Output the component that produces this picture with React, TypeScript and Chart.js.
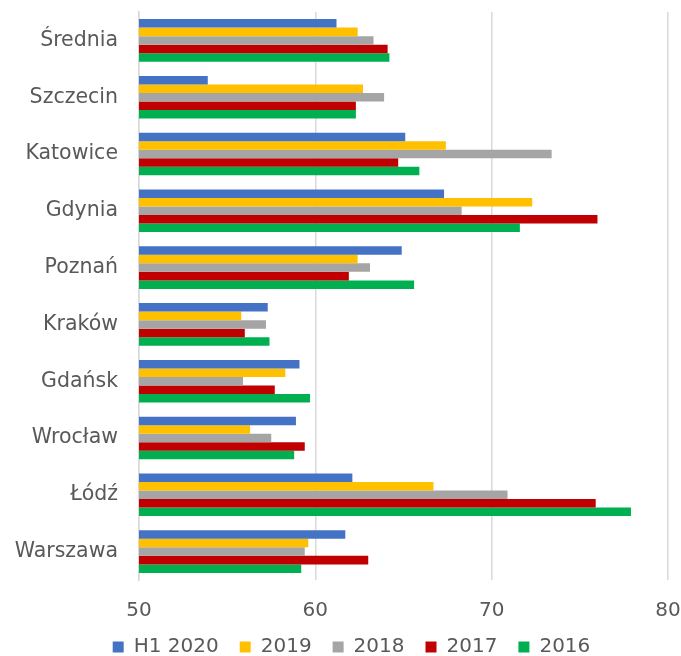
import React, { useEffect, useRef } from "react";
import { Chart, registerables } from "chart.js";

Chart.register(...registerables);

const cities = [
  "Średnia",
  "Szczecin",
  "Katowice",
  "Gdynia",
  "Poznań",
  "Kraków",
  "Gdańsk",
  "Wrocław",
  "Łódź",
  "Warszawa",
];

const seriesNames = ["H1 2020", "2019", "2018", "2017", "2016"];

const h1_2020 = [61.2, 53.9, 65.1, 67.3, 64.9, 57.3, 59.1, 58.9, 62.1, 61.7];
const y2019 = [62.4, 62.7, 67.4, 72.3, 62.4, 55.8, 58.3, 56.3, 66.7, 59.6];
const y2018 = [63.3, 63.9, 73.4, 68.3, 63.1, 57.2, 55.9, 57.5, 70.9, 59.4];
const y2017 = [64.1, 62.3, 64.7, 76.0, 61.9, 56.0, 57.7, 59.4, 75.9, 63.0];
const y2016 = [64.2, 62.3, 65.9, 71.6, 65.6, 57.4, 59.7, 58.8, 77.9, 59.2];

const xTicks = [50, 60, 70, 80];

const colors = ["#4472C4", "#FFC000", "#A5A5A5", "#C00000", "#00B050"];

const FONT = "'DejaVu Sans', Verdana, sans-serif";
const TEXT = "#595959";
const GRID = "#D9D9D9";

const PLOT_LEFT = 139;

// Centre the legend row a little to the right of the canvas centre.
const legendOffset = {
  id: "legendOffset",
  beforeDraw(chart: any) {
    const lg = chart.legend;
    if (lg) {
      lg.left = 35;
      lg.right = 668;
    }
  },
};

export default function App() {
  const ref = useRef<HTMLCanvasElement | null>(null);

  useEffect(() => {
    if (!ref.current) return;
    const values = [h1_2020, y2019, y2018, y2017, y2016];
    const chart = new Chart(ref.current, {
      type: "bar",
      data: {
        labels: cities,
        datasets: seriesNames.map((name, i) => ({
          label: name,
          data: values[i],
          backgroundColor: colors[i],
          borderWidth: 0,
          categoryPercentage: 0.75,
          barPercentage: 1,
        })),
      },
      options: {
        indexAxis: "y",
        animation: false,
        responsive: true,
        maintainAspectRatio: false,
        layout: { padding: { top: 12, right: 13, bottom: -11, left: 0 } },
        plugins: {
          tooltip: { enabled: false },
          legend: {
            position: "bottom",
            labels: {
              font: { family: FONT, size: 20 },
              color: TEXT,
              boxWidth: 11,
              boxHeight: 11,
              padding: 21,
            },
          },
        },
        scales: {
          x: {
            min: 50,
            max: 80,
            afterBuildTicks: (s: any) => {
              s.ticks = xTicks.map((v) => ({ value: v }));
            },
            afterFit: (s: any) => {
              s.height = 36;
              s.paddingLeft = 0;
              s.paddingRight = 0;
            },
            ticks: {
              font: { family: FONT, size: 20 },
              color: TEXT,
              padding: 19,
            },
            grid: { color: GRID, lineWidth: 1.5, drawTicks: false },
            border: { display: false },
          },
          y: {
            afterFit: (s: any) => {
              s.width = PLOT_LEFT;
              s.paddingTop = 0;
              s.paddingBottom = 0;
            },
            ticks: {
              font: { family: FONT, size: 20.5 },
              color: TEXT,
              padding: 21,
            },
            grid: { display: false, drawTicks: false },
            border: { display: true, color: GRID, width: 1.5 },
          },
        },
      },
      plugins: [legendOffset],
    });
    return () => chart.destroy();
  }, []);

  return (
    <div style={{ position: "absolute", left: 0, top: 0, width: 681, height: 656, background: "#fff" }}>
      <canvas ref={ref} />
    </div>
  );
}
